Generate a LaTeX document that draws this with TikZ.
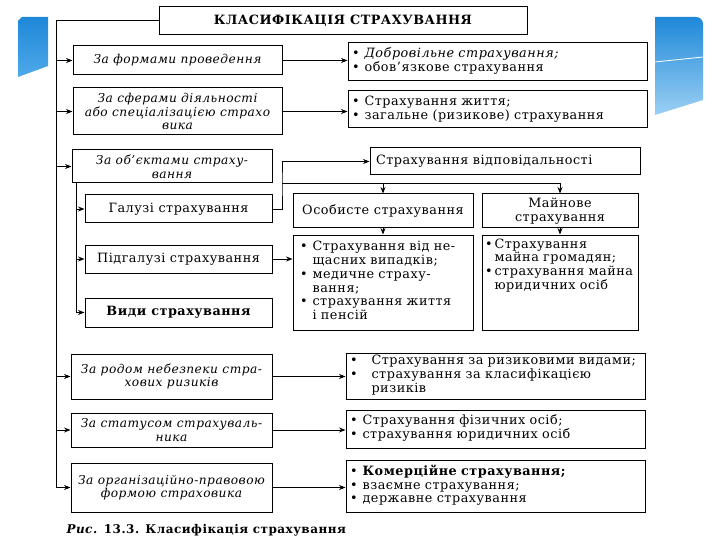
\documentclass[tikz,border=0pt]{standalone}
\usepackage{fontspec}
\setmainfont{DejaVu Serif}[LetterSpace=4]
\usetikzlibrary{arrows.meta}

\definecolor{tileblue}{HTML}{1E88D8}
\definecolor{tilemid}{HTML}{4FA9E9}
\definecolor{tilepale}{HTML}{9BD0F4}

\newcommand{\diagfont}{\fontsize{12.8}{13.8}\selectfont}
\newcommand{\catfont}{\fontsize{12.2}{13.6}\selectfont\itshape}
\newcommand{\blist}[2][5pt]{\begin{tabular}{@{}l@{\hspace{#1}}l@{}}#2\end{tabular}}

\begin{document}
\begin{tikzpicture}[x=1pt, y=-1pt, >={Stealth[length=6.5pt,width=5pt]},
    box/.style={draw, line width=1pt, inner sep=2pt, align=center, font=\diagfont},
    catbox/.style={box, font=\catfont},
    listbox/.style={box, align=left, inner xsep=4pt},
    link/.style={->, line width=0.8pt}]
    \useasboundingbox (0,0) rectangle (720,540);

    % Slide decoration tiles
    \shade[top color=tileblue, bottom color=tilemid] (22,17) -- (48,17) -- (48,66) -- (18,77) -- (18,21) -- cycle;
    \shade[top color=tileblue, bottom color=tilepale] (655,17) -- (696,17)
        .. controls (700,17) and (703,20) .. (703,24) -- (703,100) -- (655,115) -- cycle;
    \draw[white, line width=0.8pt] (655,62) -- (703,57);

    % Title
    \node[box, minimum width=368pt, minimum height=28pt, font=\diagfont\bfseries] (title) at (343,21)
        {КЛАСИФІКАЦІЯ СТРАХУВАННЯ};

    % Classification criteria
    \node[catbox, minimum width=209pt, minimum height=29pt] (forma) at (177.5,60.5) {За формами проведення};
    \node[catbox, minimum width=209pt, minimum height=47pt] (sfera) at (177.5,111.5)
        {За сферами діяльності\\або спеціалізацією страхо\\вика};
    \node[catbox, minimum width=200pt, minimum height=33pt] (obj) at (172,166.5) {За об’єктами страху-\\вання};
    \node[catbox, minimum width=201pt, minimum height=45pt] (rid) at (171.5,376.5)
        {За родом небезпеки стра-\\хових ризиків};
    \node[catbox, minimum width=201pt, minimum height=34pt] (status) at (171.5,430)
        {За статусом страхуваль-\\ника};
    \node[catbox, minimum width=201pt, minimum height=49pt] (org) at (171.5,487.5)
        {За організаційно-правовою\\формою страховика};

    % Branches, sub-branches and types
    \node[box, minimum width=187pt, minimum height=28pt] (galuzi) at (178.5,209) {Галузі страхування};
    \node[box, minimum width=187pt, minimum height=28pt] (pidgaluzi) at (178.5,259) {Підгалузі страхування};
    \node[box, minimum width=187pt, minimum height=29pt, font=\diagfont\bfseries] (vydy) at (178.5,312.5)
        {Види страхування};

    % Lists on the right
    \node[listbox, text width=291pt, minimum height=38pt] (formalist) at (497.5,62)
        {\blist{• & \textit{Добровільне страхування;}\\ • & обов’язкове страхування}};
    \node[listbox, text width=291pt, minimum height=37pt] (sferalist) at (497.5,109.5)
        {\blist{• & Страхування життя;\\ • & загальне (ризикове) страхування}};
    \node[listbox, text width=291pt, minimum height=46pt] (ridlist) at (495.5,376)
        {\blist[14pt]{• & Страхування за ризиковими видами;\\ • & страхування за класифікацією\\ & ризиків}};
    \node[listbox, text width=291pt, minimum height=38pt] (statuslist) at (495.5,429)
        {\blist{• & Страхування фізичних осіб;\\ • & страхування юридичних осіб}};
    \node[listbox, text width=291pt, minimum height=52pt] (orglist) at (495.5,486)
        {\blist{• & \textbf{Комерційне страхування;}\\ • & взаємне страхування;\\ • & державне страхування}};

    % Objects of insurance
    \node[listbox, text width=258pt, inner xsep=6pt, minimum height=27pt] (vidp) at (505,161.5)
        {Страхування відповідальності};
    \node[box, minimum width=180pt, minimum height=34pt] (osob) at (383,211) {Особисте страхування};
    \node[box, minimum width=156pt, minimum height=34pt] (mayn) at (560,211) {Майнове\\страхування};
    \node[listbox, text width=166pt, inner xsep=7pt, minimum height=95pt] (osoblist) at (383,282.5)
        {\blist[5pt]{• & Страхування від не-\\ & щасних випадків;\\ • & медичне страху-\\ & вання;\\
         • & страхування життя\\ & і пенсій}};
    \node[listbox, text width=150pt, inner xsep=3pt, minimum height=95pt] (maynlist) at (560,282.5)
        {\begin{minipage}[c][88pt][t]{150pt}\blist[2pt]{• & Страхування\\ & майна громадян;\\
         • & страхування майна\\ & юридичних осіб}\end{minipage}};

    % Main trunk from the title
    \coordinate (trunk) at (56,0);
    \draw[line width=1pt] (title.west) -- (title.west -| trunk) -- (org.west -| trunk);
    \foreach \n in {forma,sfera,obj,rid,status,org}
        \draw[link] (\n.west -| trunk) -- (\n.west);

    % Trunk under the objects box
    \coordinate (sub) at (76,0);
    \draw[line width=0.8pt] (obj.south -| sub) -- (vydy.west -| sub);
    \foreach \n in {galuzi,pidgaluzi,vydy}
        \draw[link] (\n.west -| sub) -- (\n.west);

    % Criteria to their lists
    \foreach \a/\b in {forma/formalist,sfera/sferalist,rid/ridlist,status/statuslist,org/orglist}
        \draw[link] (\a.east) -- (\a.east -| \b.west);

    % Branches of insurance
    \coordinate (fork) at (282,183);
    \draw[link] (galuzi.east) -| (fork) |- (vidp.west);
    \draw[line width=0.8pt] (fork) -- (fork -| mayn.north);
    \draw[link] (fork -| osob.north) -- (osob.north);
    \draw[link] (fork -| mayn.north) -- (mayn.north);
    \draw[link] (osob.south) -- (osoblist.north);
    \draw[link] (mayn.south) -- (maynlist.north);
    \draw[link] (pidgaluzi.east) -- (pidgaluzi.east -| osoblist.west);

    \node[anchor=west, font=\fontsize{12}{13}\selectfont\bfseries] (caption) at (63,530)
        {\textit{Рис.} 13.3. Класифікація страхування};
\end{tikzpicture}
\end{document}
